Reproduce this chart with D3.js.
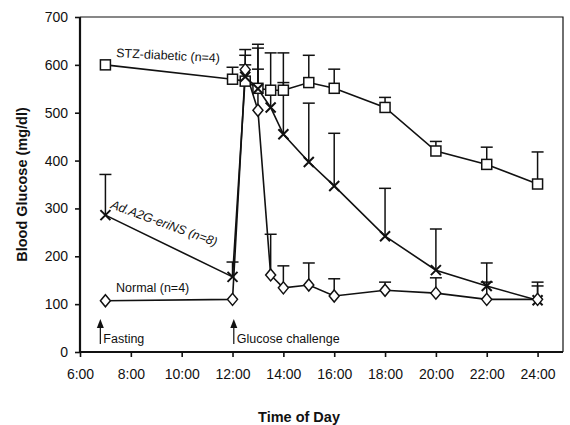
<!DOCTYPE html>
<html><head><meta charset="utf-8">
<script src="https://cdn.jsdelivr.net/npm/d3@7"></script>
<style>body{margin:0;background:#fff}svg{display:block}text{font-family:"Liberation Sans",Arial,sans-serif;fill:#111}</style>
</head><body><svg id="c" width="570" height="425"></svg>
<script>
// ---- data ----
const hours = [7, 12, 12.5, 13, 13.5, 14, 15, 16, 18, 20, 22, 24];
const stzValues = [600, 570, 566, 551, 547, 547, 563, 551, 511, 420, 392, 351];
const stzUpper  = [null, 595, 600, 643, null, 563, 620, 591, 532, 440, 428, 418];
const adValues  = [286, 157, 575, 550, 511, 455, 397, 347, 242, 171, 138, 108];
const adUpper   = [371, 188, 620, 635, 625, 625, 520, 457, 342, 257, 186, 146];
const normValues = [107, 110, 590, 505, 161, 134, 140, 117, 129, 123, 110, 110];
const normUpper  = [null, null, 632, 591, 246, 180, 186, 153, 146, 155, 146, 138];
const xTicks = [6, 8, 10, 12, 14, 16, 18, 20, 22, 24];
const xTickLabels = ["6:00","8:00","10:00","12:00","14:00","16:00","18:00","20:00","22:00","24:00"];
const yTicks = [0, 100, 200, 300, 400, 500, 600, 700];
const seriesNames = ["STZ-diabetic (n=4)", "Ad.A2G-eriNS (n=8)", "Normal (n=4)"];
const arrowHours = [6.8, 12.05];
const arrowLabels = ["Fasting", "Glucose challenge"];

// ---- chart ----
const W = 570, H = 425;
const m = {l: 80, r: 7, t: 17, b: 73};
const svg = d3.select("#c");
const x = d3.scaleLinear().domain([6, 25]).range([m.l, W - m.r]);
const y = d3.scaleLinear().domain([0, 700]).range([H - m.b, m.t]);

// frame (top & right)
svg.append("path").attr("d", `M${x(6)},${y(700)}H${x(25)}V${y(0)}`)
  .attr("fill", "none").attr("stroke", "#111").attr("stroke-width", 1.2);

// axes
const ya = svg.append("g").attr("transform", `translate(${m.l},0)`)
  .call(d3.axisLeft(y).tickValues(yTicks).tickSize(5).tickPadding(7));
const xa = svg.append("g").attr("transform", `translate(0,${y(0)})`)
  .call(d3.axisBottom(x).tickValues(xTicks).tickFormat((d, i) => xTickLabels[i]).tickSize(5).tickPadding(12));
[ya, xa].forEach(g => {
  g.select(".domain").attr("stroke", "#111").attr("stroke-width", 2.2);
  g.selectAll(".tick line").attr("stroke", "#111").attr("stroke-width", 1.6);
  g.selectAll(".tick text").attr("font-size", 14).attr("fill", "#222")
    .style("font-family", '"Liberation Sans",Arial,sans-serif');
});
xa.select(".domain").attr("d", `M${x(6)},0H${x(25)}`);
ya.select(".domain").attr("d", `M0,${y(700)}V${y(0)}`);

// axis titles
svg.append("text").attr("transform", `translate(27,${(y(0)+y(700))/2}) rotate(-90)`)
  .attr("text-anchor", "middle").attr("font-size", 14.5).attr("font-weight", "bold")
  .text("Blood Glucose (mg/dl)");
svg.append("text").attr("x", 299).attr("y", 422).attr("text-anchor", "middle")
  .attr("font-size", 14.5).attr("font-weight", "bold").text("Time of Day");

// series
const series = [
  {vals: stzValues, up: stzUpper, marker: "square"},
  {vals: adValues, up: adUpper, marker: "x"},
  {vals: normValues, up: normUpper, marker: "diamond"}
];
const line = d3.line().x(d => x(d[0])).y(d => y(d[1]));
const plot = svg.append("g");
// error bars first
series.forEach(s => {
  hours.forEach((h, i) => {
    if (s.up[i] == null) return;
    const g = plot.append("g").attr("stroke", "#111").attr("stroke-width", 1.5);
    g.append("line").attr("x1", x(h)).attr("x2", x(h)).attr("y1", y(s.vals[i])).attr("y2", y(s.up[i]));
    g.append("line").attr("x1", x(h) - 6).attr("x2", x(h) + 6).attr("y1", y(s.up[i])).attr("y2", y(s.up[i]));
  });
});
series.forEach(s => {
  plot.append("path").datum(hours.map((h, i) => [h, s.vals[i]]))
    .attr("d", line).attr("fill", "none").attr("stroke", "#111").attr("stroke-width", 1.6);
});
series.forEach(s => {
  hours.forEach((h, i) => {
    const cx = x(h), cy = y(s.vals[i]);
    if (s.marker === "square") {
      plot.append("rect").attr("x", cx - 5).attr("y", cy - 5).attr("width", 10).attr("height", 10)
        .attr("fill", "#fff").attr("stroke", "#111").attr("stroke-width", 1.5);
    } else if (s.marker === "diamond") {
      plot.append("path").attr("d", `M${cx},${cy-6}L${cx+5},${cy}L${cx},${cy+6}L${cx-5},${cy}Z`)
        .attr("fill", "#fff").attr("stroke", "#111").attr("stroke-width", 1.5);
    } else {
      plot.append("path").attr("d", `M${cx-5},${cy-5}L${cx+5},${cy+5}M${cx-5},${cy+5}L${cx+5},${cy-5}`)
        .attr("stroke", "#111").attr("stroke-width", 2);
    }
  });
});

// series labels
svg.append("text").attr("transform", `translate(116,57) rotate(3)`).attr("font-size", 12.5).text(seriesNames[0]);
svg.append("text").attr("transform", `translate(110,208) rotate(20)`).attr("font-size", 12.5)
  .attr("font-style", "italic").text(seriesNames[1]);
svg.append("text").attr("x", 116).attr("y", 292).attr("font-size", 12.5).text(seriesNames[2]);

// arrows
arrowHours.forEach((h, i) => {
  const ax = x(h);
  svg.append("line").attr("x1", ax).attr("x2", ax).attr("y1", 327).attr("y2", 344)
    .attr("stroke", "#111").attr("stroke-width", 1.2);
  svg.append("path").attr("d", `M${ax},319L${ax+3.5},328L${ax-3.5},328Z`).attr("fill", "#111");
  svg.append("text").attr("x", ax + 3).attr("y", 343).attr("font-size", 12.5).text(arrowLabels[i]);
});
</script></body></html>
